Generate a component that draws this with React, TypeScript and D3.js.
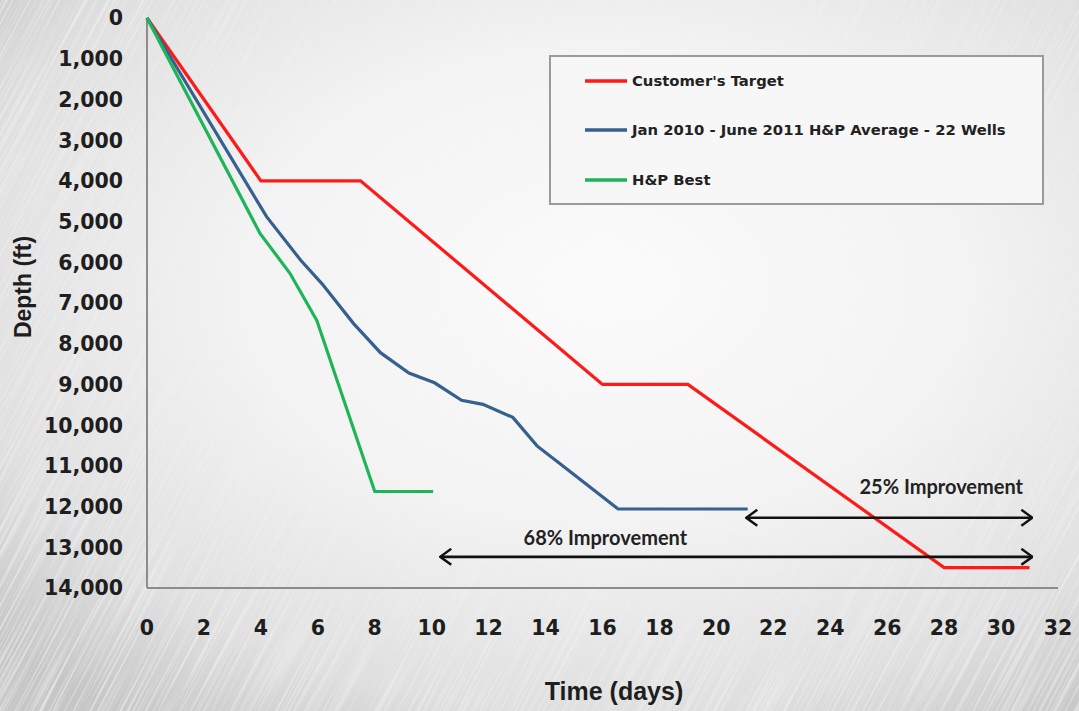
import React from "react";
import * as d3 from "d3";

// Drilling curves: depth reached (ft) against elapsed time (days)
const targetDays = [0, 4, 7.5, 16, 19, 28, 31];
const targetDepth = [0, 4000, 4000, 9000, 9000, 13500, 13500];

const avgDays = [0, 4.2, 5.4, 6.15, 7.25, 8.2, 9.2, 10.1, 11.05, 11.8, 12.85, 13.7, 14.6, 16.55, 21.1];
const avgDepth = [0, 4880, 5950, 6530, 7500, 8220, 8720, 8960, 9390, 9490, 9810, 10510, 11000, 12060, 12060];

const bestDays = [0, 3.97, 5.02, 5.96, 8.0, 10.05];
const bestDepth = [0, 5290, 6270, 7420, 11630, 11630];

const seriesNames = ["Customer's Target", "Jan 2010 - June 2011 H&P Average - 22 Wells", "H&P Best"];
const seriesColors = ["#ff1a1a", "#36608e", "#1db558"];

const xTicks = [0, 2, 4, 6, 8, 10, 12, 14, 16, 18, 20, 22, 24, 26, 28, 30, 32];
const yTicks = [0, 1000, 2000, 3000, 4000, 5000, 6000, 7000, 8000, 9000, 10000, 11000, 12000, 13000, 14000];

// Improvement callouts (double-headed arrows)
const calloutLabels = ["25% Improvement", "68% Improvement"];
const calloutFrom = [21.05, 10.3];
const calloutTo = [31.1, 31.1];
const calloutDepth = [12275, 13235];
const calloutLabelDay = [27.9, 16.1];
const calloutLabelDepth = [11520, 12770];

const W = 1079;
const H = 711;
const plot = { left: 147, right: 1058, top: 18, bottom: 588 };

const tickFont = "'DejaVu Sans', sans-serif";

export default function App() {
  const x = d3.scaleLinear().domain([0, 32]).range([plot.left, plot.right]);
  const y = d3.scaleLinear().domain([0, 14000]).range([plot.top, plot.bottom]);
  const fmt = d3.format(",");

  const line = d3
    .line<[number, number]>()
    .x((d) => x(d[0]))
    .y((d) => y(d[1]));

  const series = [
    targetDays.map((d, i) => [d, targetDepth[i]] as [number, number]),
    avgDays.map((d, i) => [d, avgDepth[i]] as [number, number]),
    bestDays.map((d, i) => [d, bestDepth[i]] as [number, number]),
  ];

  const legend = { x: 550, y: 56, w: 493, h: 148 };
  const legendRows = [81, 130, 180];

  return (
    <svg
      width={W}
      height={H}
      viewBox={`0 0 ${W} ${H}`}
      style={{ position: "absolute", left: 0, top: 0, display: "block" }}
    >
      <defs>
        <radialGradient id="bg" cx="56%" cy="40%" r="75%">
          <stop offset="0%" stopColor="#fbfbfb" />
          <stop offset="45%" stopColor="#f3f3f3" />
          <stop offset="80%" stopColor="#dfdfdf" />
          <stop offset="100%" stopColor="#c6c6c6" />
        </radialGradient>
        <radialGradient id="edgeFade" cx="56%" cy="40%" r="75%">
          <stop offset="0%" stopColor="#000" />
          <stop offset="45%" stopColor="#000" />
          <stop offset="100%" stopColor="#fff" />
        </radialGradient>
        <mask id="edgeMask">
          <rect x={0} y={0} width={W} height={H} fill="url(#edgeFade)" />
        </mask>
        <filter id="brushed" x="0" y="0" width="100%" height="100%">
          <feTurbulence type="fractalNoise" baseFrequency="0.45 0.006" numOctaves={2} seed={7} />
          <feColorMatrix
            type="matrix"
            values="0 0 0 0 1  0 0 0 0 1  0 0 0 0 1  3.2 0 0 0 -1.45"
          />
        </filter>
        <marker id="head" viewBox="0 0 13 18" refX="12" refY="9" markerWidth="13" markerHeight="18" markerUnits="userSpaceOnUse" orient="auto-start-reverse">
          <path d="M1,1 L12,9 L1,17" fill="none" stroke="#111" strokeWidth={2.5} strokeLinejoin="miter" />
        </marker>
      </defs>

      <rect x={0} y={0} width={W} height={H} fill="url(#bg)" />
      <g mask="url(#edgeMask)" opacity={0.55}>
        <rect
          x={-500}
          y={-500}
          width={2100}
          height={1700}
          filter="url(#brushed)"
          transform={`rotate(28 ${W / 2} ${H / 2})`}
        />
      </g>

      {/* axis lines */}
      <line x1={x(0)} x2={x(0)} y1={y(0)} y2={y(14000)} stroke="#8c8c8c" strokeWidth={2} />
      <line x1={x(0)} x2={x(32)} y1={y(14000)} y2={y(14000)} stroke="#8c8c8c" strokeWidth={2} />

      {/* y tick labels */}
      {yTicks.map((t) => (
        <text
          key={"y" + t}
          x={123}
          y={y(t)}
          dy="0.36em"
          textAnchor="end"
          fontFamily={tickFont}
          fontWeight="bold"
          fontSize={20.5}
          fill="#1e1e1e"
        >
          {fmt(t)}
        </text>
      ))}

      {/* x tick labels */}
      {xTicks.map((t) => (
        <text
          key={"x" + t}
          x={x(t)}
          y={628}
          dy="0.36em"
          textAnchor="middle"
          fontFamily={tickFont}
          fontWeight="bold"
          fontSize={20.5}
          fill="#1e1e1e"
        >
          {t}
        </text>
      ))}

      {/* axis titles */}
      <text
        x={614}
        y={691}
        dy="0.36em"
        textAnchor="middle"
        fontFamily="'Liberation Sans', Arial, sans-serif"
        fontWeight="bold"
        fontSize={25}
        fill="#1e1e1e"
      >
        Time (days)
      </text>
      <text
        transform={`translate(23, 287) rotate(-90)`}
        dy="0.36em"
        textAnchor="middle"
        fontFamily="'Liberation Sans', Arial, sans-serif"
        fontWeight="bold"
        fontSize={23}
        fill="#1e1e1e"
      >
        Depth (ft)
      </text>

      {/* data lines */}
      {series.map((pts, i) => (
        <path
          key={"s" + i}
          d={line(pts) || ""}
          fill="none"
          stroke={seriesColors[i]}
          strokeWidth={3.2}
          strokeLinejoin="miter"
        />
      ))}

      {/* improvement arrows */}
      {calloutLabels.map((lab, i) => (
        <g key={"c" + i}>
          <line
            x1={x(calloutFrom[i])}
            x2={x(calloutTo[i])}
            y1={y(calloutDepth[i])}
            y2={y(calloutDepth[i])}
            stroke="#111"
            strokeWidth={2.6}
            markerStart="url(#head)"
            markerEnd="url(#head)"
          />
          <text
            x={x(calloutLabelDay[i])}
            y={y(calloutLabelDepth[i])}
            dy="0.36em"
            textAnchor="middle"
            fontFamily="Lato, 'Open Sans', sans-serif"
            fontWeight="bold"
            fontSize={20}
            fill="#222"
          >
            {lab}
          </text>
        </g>
      ))}

      {/* legend */}
      <rect
        x={legend.x}
        y={legend.y}
        width={legend.w}
        height={legend.h}
        fill="#f7f7f7"
        stroke="#9a9a9a"
        strokeWidth={2}
      />
      {seriesNames.map((name, i) => (
        <g key={"l" + i}>
          <line x1={585} x2={627} y1={legendRows[i]} y2={legendRows[i]} stroke={seriesColors[i]} strokeWidth={3.5} />
          <text
            x={632}
            y={legendRows[i]}
            dy="0.36em"
            fontFamily={tickFont}
            fontWeight="bold"
            fontSize={14.8}
            fill="#222"
          >
            {name}
          </text>
        </g>
      ))}
    </svg>
  );
}
